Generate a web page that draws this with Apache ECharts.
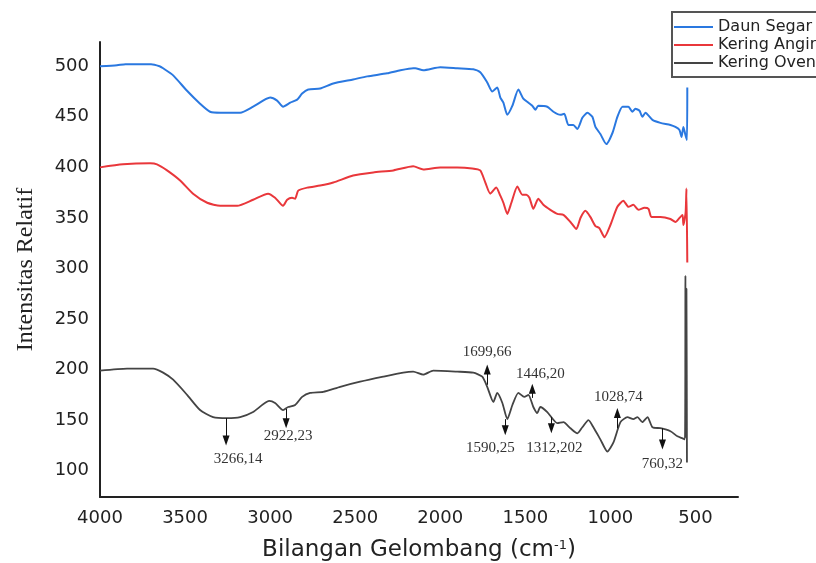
<!DOCTYPE html>
<html>
<head>
<meta charset="utf-8">
<script src="https://cdn.jsdelivr.net/npm/echarts@6/dist/echarts.min.js"></script>
<style>
  html, body { margin: 0; padding: 0; background: #fff; }
  #chart { width: 816px; height: 563px; }
</style>
</head>
<body>
<div id="chart"></div>
<script>
// spektrum FTIR: [bilangan gelombang, intensitas]
const daunSegar = [
  [4000,500],[3900,501],[3850,502],[3700,502],[3650,500],[3629,498],[3570,491],[3490,476],
  [3412,463],[3353,455],[3290,454],[3176,454],[3100,460],[3000,469],[2959,466],[2924,460],
  [2882,464],[2841,467],[2812,473],[2776,477],[2706,478],[2629,483],[2512,487],[2429,490],
  [2312,493],[2235,496],[2159,498],[2147,498],[2100,496],[2000,499],[1900,498],[1806,497],
  [1765,494],[1724,484],[1694,475],[1665,479],[1647,469],[1629,464],[1606,452],[1576,461],
  [1541,477],[1512,468],[1482,464],[1459,461],[1441,457],[1424,461],[1371,460],[1335,455],
  [1294,452],[1271,453],[1247,442],[1218,442],[1194,438],[1165,449],[1135,454],[1106,450],
  [1088,440],[1059,433],[1024,423],[988,434],[959,450],[929,460],[894,460],[871,455],
  [853,458],[829,456],[812,450],[794,454],[753,447],[706,444],[647,442],[618,440],
  [594,437],[582,430],[571,440],[559,432],[550,427],[548,479]
];
const keringAngin = [
  [4000,400],[3865,403],[3706,404],[3665,403],[3606,397],[3529,387],[3453,374],[3370,365],
  [3294,362],[3194,362],[3100,368],[3012,374],[2971,370],[2924,362],[2900,368],[2871,370],
  [2853,369],[2835,377],[2782,380],[2706,382],[2629,385],[2512,392],[2394,395],[2276,397],
  [2159,401],[2100,398],[2000,400],[1900,400],[1812,399],[1765,397],[1735,385],[1706,374],
  [1671,380],[1647,372],[1629,365],[1606,354],[1582,365],[1547,381],[1518,373],[1494,373],
  [1476,370],[1453,359],[1424,369],[1394,363],[1353,358],[1312,354],[1276,353],[1235,346],
  [1200,339],[1176,350],[1147,357],[1118,351],[1088,342],[1065,340],[1035,331],[1000,343],
  [959,361],[924,367],[894,361],[865,363],[835,358],[800,360],[776,359],[759,351],
  [706,351],[647,349],[618,346],[594,350],[576,353],[571,343],[558,355],[553,379],[548,306]
];
const keringOven = [
  [4000,199],[3841,201],[3688,201],[3629,197],[3570,190],[3488,175],[3412,160],[3335,153],
  [3253,152],[3176,153],[3100,158],[3006,169],[2971,167],[2924,160],[2894,163],[2853,165],
  [2812,173],[2765,177],[2688,178],[2588,183],[2471,188],[2335,193],[2218,197],[2159,198],
  [2100,195],[2041,199],[1900,198],[1806,197],[1753,193],[1724,183],[1688,168],[1665,177],
  [1635,167],[1606,151],[1576,165],[1541,177],[1506,173],[1482,175],[1453,163],[1430,157],
  [1412,163],[1371,158],[1312,147],[1276,148],[1235,142],[1194,137],[1165,143],[1129,150],
  [1100,143],[1059,131],[1018,119],[982,128],[941,148],[900,153],[865,151],[841,153],
  [812,148],[782,153],[753,143],[706,142],[647,139],[606,134],[576,132],[562,131],
  [559,293],[556,132],[553,280],[550,108]
];

// label puncak (Kering Oven)
const peakNames = ['3266,14', '2922,23', '1699,66', '1590,25', '1446,20', '1312,202', '1028,74', '760,32'];
const arrowWave = [3259, 2906, 1724, 1618, 1459, 1347, 959, 694];
const arrowFrom = [152, 161, 185, 151, 172, 153, 142, 142];
const arrowTo = [130, 147, 200, 140, 181, 142, 157, 126];
const labelWave = [3188, 2894, 1724, 1706, 1412, 1329, 953, 694];
const labelVal = [112, 134, 217, 122, 196, 122, 173, 107];

const xTicks = [4000, 3500, 3000, 2500, 2000, 1500, 1000, 500];
const yTicks = [100, 150, 200, 250, 300, 350, 400, 450, 500];

const chart = echarts.init(document.getElementById('chart'));

const arrows = arrowWave.map((w, i) => [
  { coord: [w, arrowFrom[i]] },
  { coord: [w, arrowTo[i]] }
]);
const peakLabels = peakNames.map((n, i) => ({ name: n, coord: [labelWave[i], labelVal[i]] }));

chart.setOption({
  animation: false,
  textStyle: { fontFamily: 'DejaVu Sans' },
  grid: { left: 100, right: 78, top: 42, bottom: 66, outerBoundsMode: 'none' },
  legend: {
    orient: 'vertical',
    left: 672,
    top: 12,
    padding: [7, 8, 6, 2],
    icon: 'rect',
    itemWidth: 39,
    itemHeight: 2,
    itemGap: 2,
    borderColor: '#555',
    borderWidth: 2,
    borderRadius: 0,
    textStyle: { fontSize: 16, lineHeight: 16, color: '#222', fontFamily: 'DejaVu Sans' },
    data: ['Daun Segar', 'Kering Angin', 'Kering Oven']
  },
  xAxis: {
    type: 'value',
    inverse: true,
    min: 250,
    max: 4000,
    name: '{a|Bilangan Gelombang (cm}{s|-1}{a|)}',
    nameLocation: 'middle',
    nameGap: 42,
    nameTextStyle: {
      rich: {
        a: { fontSize: 23, color: '#222', fontFamily: 'DejaVu Sans' },
        s: { fontSize: 13, color: '#222', fontFamily: 'DejaVu Sans', verticalAlign: 'top' }
      }
    },
    axisLine: { lineStyle: { color: '#222', width: 2 } },
    axisTick: { show: false },
    splitLine: { show: false },
    axisLabel: { customValues: xTicks, formatter: v => String(v), fontSize: 18, color: '#222', margin: 12 }
  },
  yAxis: {
    type: 'value',
    min: 74,
    max: 524,
    name: 'Intensitas Relatif',
    nameLocation: 'middle',
    nameGap: 62,
    nameTextStyle: { fontSize: 24, color: '#222', fontFamily: 'Liberation Serif' },
    axisLine: { show: true, lineStyle: { color: '#222', width: 2 } },
    axisTick: { show: false },
    splitLine: { show: false },
    axisLabel: { customValues: yTicks, formatter: v => String(v), fontSize: 18, color: '#222', margin: 11 }
  },
  series: [
    {
      name: 'Daun Segar', type: 'line', data: daunSegar, symbol: 'none', smooth: 0.2,
      lineStyle: { color: '#2a78e0', width: 2 }, itemStyle: { color: '#2a78e0' }
    },
    {
      name: 'Kering Angin', type: 'line', data: keringAngin, symbol: 'none', smooth: 0.2,
      lineStyle: { color: '#e9373b', width: 2 }, itemStyle: { color: '#e9373b' }
    },
    {
      name: 'Kering Oven', type: 'line', data: keringOven, symbol: 'none', smooth: 0.2,
      lineStyle: { color: '#444', width: 1.8 }, itemStyle: { color: '#444' },
      markLine: {
        silent: true,
        symbol: ['none', 'triangle'],
        symbolSize: [7, 10],
        lineStyle: { color: '#111', width: 1, type: 'solid' },
        label: { show: false },
        data: arrows
      },
      markPoint: {
        silent: true,
        symbol: 'circle',
        symbolSize: 1,
        itemStyle: { color: 'rgba(0,0,0,0)' },
        label: {
          show: true, position: 'inside', formatter: p => p.name,
          fontFamily: 'Liberation Serif', fontSize: 15, color: '#333'
        },
        data: peakLabels
      }
    }
  ]
});
</script>
</body>
</html>
